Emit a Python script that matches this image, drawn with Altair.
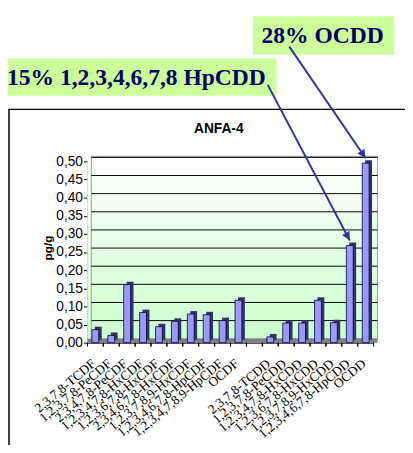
import altair as alt
import pandas as pd

categories = ["2,3,7,8-TCDF", "1,2,3,7,8-PeCDF", "2,3,4,7,8-PeCDF", "1,2,3,4,7,8-HxCDF",
              "1,2,3,6,7,8-HxCDF", "2,3,4,6,7,8-HxCDF", "1,2,3,7,8,9-HxCDF",
              "1,2,3,4,6,7,8-HpCDF", "1,2,3,4,7,8,9-HpCDF", "OCDF", " ",
              "2,3,7,8-TCDD", "1,2,3,7,8-PeCDD", "1,2,3,4,7,8-HxCDD", "1,2,3,6,7,8-HxCDD",
              "1,2,3,7,8,9-HxCDD", "1,2,3,4,6,7,8-HpCDD", "OCDD"]
values = [0.036, 0.020, 0.160, 0.083, 0.044, 0.059, 0.079, 0.077, 0.061, 0.117, None,
          0.016, 0.054, 0.054, 0.117, 0.055, 0.268, 0.495]
y_ticks = [0.00, 0.05, 0.10, 0.15, 0.20, 0.25, 0.30, 0.35, 0.40, 0.45, 0.50]
grid_lines = [0.05, 0.10, 0.15, 0.20, 0.25, 0.30, 0.35, 0.40, 0.45, 0.50]
chart_title = "ANFA-4"
note_ocdd = "28% OCDD"
note_hpcdd = "15% 1,2,3,4,6,7,8 HpCDD"

W, H = 292, 185

df = pd.DataFrame({"cat": [c for c, v in zip(categories, values) if v is not None],
                   "val": [v for v in values if v is not None]})
cats_df = pd.DataFrame({"cat": categories})
grid_df = pd.DataFrame({"val": grid_lines})
one = pd.DataFrame({"k": [0]})

xscale = alt.Scale(domain=categories, paddingInner=0, paddingOuter=0)
yscale = alt.Scale(domain=[0, 0.5], nice=False, zero=True)

x_axis = alt.Axis(labelAngle=320, labelAlign="right", labelBaseline="top",
                  labelFont="Liberation Serif", labelFontSize=13.5, labelColor="black",
                  labelPadding=14, labelOffset=-6, labelOverlap=False, labelLimit=0,
                  ticks=False, tickSize=0, domainColor="black", domainWidth=1, grid=False)
y_axis = alt.Axis(values=y_ticks, labelExpr="replace(format(datum.value, '.2f'), '.', ',')",
                  labelFont="Liberation Sans", labelFontSize=14, labelColor="black",
                  labelPadding=1, tickSize=4, tickColor="black", domainColor="#808080",
                  grid=False, title="pg/g", titleFont="Liberation Sans", titleFontSize=12,
                  titleFontWeight="bold", titleColor="black", titleX=-41, titleY=88,
                  titleAngle=270, titleAlign="center", titleBaseline="middle")


def xe(**kw):
    return alt.X("cat:N", scale=xscale, title=None, sort=None, axis=x_axis, **kw)


def ye():
    return alt.Y("val:Q", scale=yscale, axis=y_axis)


grad = alt.LinearGradient(gradient="linear", x1=0, x2=0, y1=0, y2=1,
                          stops=[alt.GradientStop(color="#ffffff", offset=0),
                                 alt.GradientStop(color="#ccffcc", offset=1)])

frame = alt.Chart(one).mark_rect(filled=False, stroke="black", strokeWidth=1.5).encode(
    x=alt.value(-80), x2=alt.value(340), y=alt.value(-53), y2=alt.value(320))

side_wall = alt.Chart(one).mark_rect(fill=grad).encode(
    x=alt.value(0), x2=alt.value(4), y=alt.value(-1), y2=alt.value(H))
back_wall = alt.Chart(one).mark_rect(fill=grad, stroke="#999999", strokeWidth=1).encode(
    x=alt.value(4), x2=alt.value(296), y=alt.value(-5), y2=alt.value(H - 4))

grid = alt.Chart(grid_df).mark_rule(color="black", strokeWidth=1, yOffset=-4).encode(
    y=ye(), x=alt.value(4), x2=alt.value(296))

floor = alt.Chart(one).mark_rect(fill="#808080").encode(
    x=alt.value(0), x2=alt.value(W + 4), y=alt.value(H - 4), y2=alt.value(H))

ticks0 = alt.Chart(cats_df).mark_rule(color="black", strokeWidth=1).encode(
    x=xe(bandPosition=0), y=alt.value(H), y2=alt.value(H + 4))
ticks1 = alt.Chart(cats_df).mark_rule(color="black", strokeWidth=1).encode(
    x=xe(bandPosition=1), y=alt.value(H), y2=alt.value(H + 4))

bar_back = alt.Chart(df).mark_bar(color="#333366", size=7, xOffset=3, yOffset=-3).encode(
    x=xe(), y=ye())
bars = alt.Chart(df).mark_bar(color="#9999ff", size=7, stroke="#000033", strokeWidth=0.8).encode(
    x=xe(), y=ye())

arrow_col = "#333399"
hp = df[df["cat"] == "1,2,3,4,6,7,8-HpCDD"]
oc = df[df["cat"] == "OCDD"]
arrow1 = alt.Chart(hp).mark_rule(color=arrow_col, strokeWidth=2, yOffset=-5).encode(
    x=xe(), y=ye(), x2=alt.value(184), y2=alt.value(-78))
head1 = alt.Chart(hp).mark_point(shape="M0,0 L-0.5,-1 L0.5,-1 Z", filled=True, size=300, angle=332,
                                 color=arrow_col, opacity=1, yOffset=-5).encode(x=xe(), y=ye())
arrow2 = alt.Chart(oc).mark_rule(color=arrow_col, strokeWidth=2, yOffset=-5).encode(
    x=xe(), y=ye(), x2=alt.value(206), y2=alt.value(-117))
head2 = alt.Chart(oc).mark_point(shape="M0,0 L-0.5,-1 L0.5,-1 Z", filled=True, size=300, angle=326,
                                 color=arrow_col, opacity=1, yOffset=-5).encode(x=xe(), y=ye())

box1 = alt.Chart(one).mark_rect(fill="#ccff99").encode(
    x=alt.value(169), x2=alt.value(313), y=alt.value(-148), y2=alt.value(-109))
text1 = alt.Chart(one).mark_text(text=note_ocdd, font="Liberation Serif", fontSize=24,
                                 fontWeight="bold", color="#000066", align="center",
                                 baseline="middle").encode(x=alt.value(240), y=alt.value(-128))
box2 = alt.Chart(one).mark_rect(fill="#ccff99").encode(
    x=alt.value(-81), x2=alt.value(193), y=alt.value(-105), y2=alt.value(-67))
text2 = alt.Chart(one).mark_text(text=note_hpcdd, font="Liberation Serif", fontSize=24,
                                 fontWeight="bold", color="#000066", align="center",
                                 baseline="middle").encode(x=alt.value(50), y=alt.value(-85))

title = alt.Chart(one).mark_text(text=chart_title, font="Liberation Sans", fontSize=14,
                                 fontWeight="bold", color="black", align="center",
                                 baseline="middle").encode(x=alt.value(134), y=alt.value(-33))

chart = alt.layer(
    frame, side_wall, back_wall, grid, floor, ticks0, ticks1, bar_back, bars,
    box1, text1, box2, text2, arrow1, head1, arrow2, head2, title
).properties(
    width=W, height=H,
    autosize=alt.AutoSizeParams(type="none"),
    padding={"left": 81, "top": 152, "right": 32, "bottom": 100},
).configure_view(stroke=None).configure(background="white")

chart.save("out.html", embed_options={"renderer": "svg", "actions": False})
